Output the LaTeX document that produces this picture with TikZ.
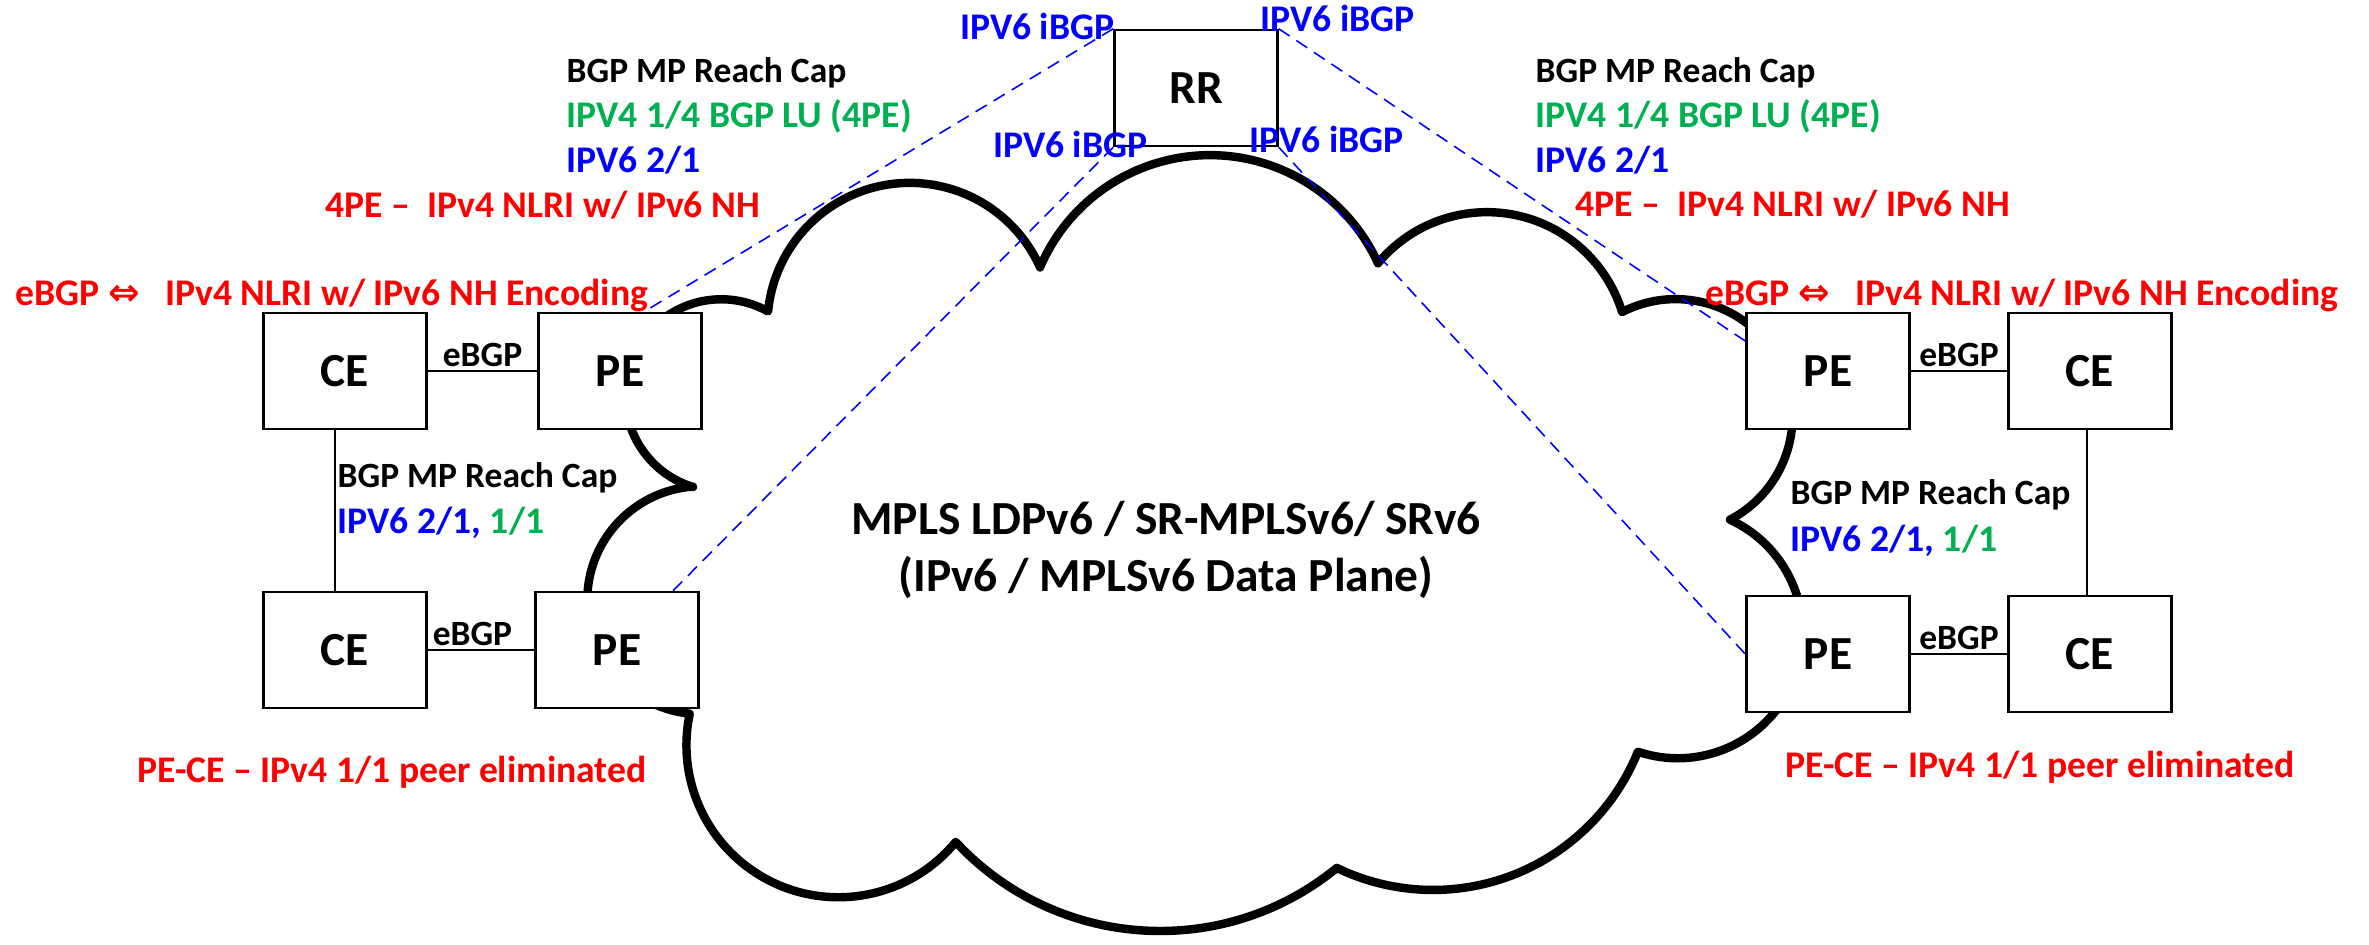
\documentclass[tikz,border=0pt]{standalone}
\usepackage{fontspec}
\setmainfont{Carlito}
\newfontfamily\arrowfont{DejaVu Sans}
\usepackage{tikz}
\usetikzlibrary{calc}

\definecolor{lugreen}{RGB}{0,176,80}
\newcommand{\bigtxt}{\fontsize{13.5pt}{16.4pt}\selectfont\bfseries}
\newcommand{\smalltxt}{\fontsize{10.1pt}{12.2pt}\selectfont\bfseries}
\newcommand{\colortxt}{\fontsize{10.7pt}{13pt}\selectfont\bfseries}

\begin{document}
\begin{tikzpicture}[x=0.01cm, y=-0.01cm,
    netbox/.style={draw, line width=0.7pt, fill=white, minimum width=1.63cm,
        minimum height=1.16cm, inner sep=0pt, font=\bigtxt},
    lbl/.style={inner sep=0pt, font=\smalltxt},
    clbl/.style={inner sep=0pt, font=\colortxt},
    ibgp/.style={blue, line width=0.45pt, dash pattern=on 3.7pt off 2.3pt},
    link/.style={line width=0.5pt},
    cloudline/.style={line width=2.4pt, line join=round}]
    \fill[white] (0,0) rectangle (2369,944);
    \useasboundingbox (0,0) rectangle (2369,944);

    % provider core
    \draw[cloudline] (693,487)
        arc[start angle=107.1, end angle=299.2, radius=96]
        arc[start angle=-174.4, end angle=-24.0, radius=142.5]
        arc[start angle=-156.9, end angle=-24.5, radius=184.7]
        arc[start angle=-140.3, end angle=-17.1, radius=141.5]
        arc[start angle=-117.2, end angle=62.3, radius=117]
        arc[start angle=-65.3, end angle=108.6, radius=125]
        arc[start angle=22.0, end angle=115.8, radius=221]
        arc[start angle=50.7, end angle=137.1, radius=279]
        arc[start angle=39.5, end angle=192.0, radius=152]
        arc[start angle=95.8, end angle=265.7, radius=114] -- cycle;
    \node[font=\bigtxt, align=center] (core) at (1166,550)
        {MPLS LDPv6 / SR-MPLSv6/ SRv6\\(IPv6 / MPLSv6 Data Plane)};

    \node[netbox] (RR) at (1196,88) {RR};
    \node[netbox] (CEa) at (345,371) {CE};
    \node[netbox] (PEa) at (620,371) {PE};
    \node[netbox] (CEb) at (345,650) {CE};
    \node[netbox] (PEb) at (617,650) {PE};
    \node[netbox] (PEc) at (1828,371) {PE};
    \node[netbox] (CEc) at (2090,371) {CE};
    \node[netbox] (PEd) at (1828,654) {PE};
    \node[netbox] (CEd) at (2090,654) {CE};

    \draw[link] (CEa) -- (PEa) node[midway, above, lbl, inner sep=1pt] {eBGP};
    \draw[link] (CEb) -- (PEb) node[pos=0.42, above, lbl, inner sep=1pt] {eBGP};
    \draw[link] (PEc) -- (CEc) node[midway, above, lbl, inner sep=1pt] {eBGP};
    \draw[link] (PEd) -- (CEd) node[midway, above, lbl, inner sep=1pt] {eBGP};
    \draw[link] ([xshift=-0.1cm]CEa.south) -- ([xshift=-0.1cm]CEb.north);
    \draw[link] ([xshift=-0.03cm]CEc.south) -- ([xshift=-0.03cm]CEd.north);

    % iBGP sessions to the RR
    \draw[ibgp] (RR.north west) -- ($(PEa.north)+(24,0)$);
    \draw[ibgp] (RR.south west) -- ($(PEb.north)+(56,0)$);
    \draw[ibgp] (RR.north east) -- ($(PEc.west)+(0,-30)$);
    \draw[ibgp] (RR.south east) -- (PEd.west);
    \node[clbl, blue, anchor=base east] (ibA) at (1115,39) {IPV6 iBGP};
    \node[clbl, blue, anchor=base west] (ibB) at (1260,31) {IPV6 iBGP};
    \node[clbl, blue, anchor=base east] (ibC) at (1148,157) {IPV6 iBGP};
    \node[clbl, blue, anchor=base west] (ibD) at (1249,152) {IPV6 iBGP};

    % left side
    \node[lbl, anchor=base west] (capA) at (566,82) {BGP MP Reach Cap};
    \node[clbl, anchor=base west, lugreen] (luA) at (566,127) {IPV4 1/4 BGP LU (4PE)};
    \node[clbl, anchor=base west, blue] (v6A) at (566,172) {IPV6 2/1};
    \node[clbl, anchor=base west, red] (nhA) at (325,217) {4PE –\ \ IPv4 NLRI w/ IPv6 NH};
    \node[clbl, anchor=base west, red] (encA) at (15,305)
        {eBGP {\arrowfont ⇔}\ \ \ IPv4 NLRI w/ IPv6 NH Encoding};
    \node[lbl, anchor=base west] (capL) at (337,487) {BGP MP Reach Cap};
    \node[clbl, anchor=base west] (v6L) at (337,533) {\color{blue}IPV6 2/1, \color{lugreen}1/1};
    \node[clbl, anchor=base west, red] (elimA) at (137,782) {PE-CE – IPv4 1/1 peer eliminated};

    % right side
    \node[lbl, anchor=base west] (capB) at (1535,82) {BGP MP Reach Cap};
    \node[clbl, anchor=base west, lugreen] (luB) at (1535,127) {IPV4 1/4 BGP LU (4PE)};
    \node[clbl, anchor=base west, blue] (v6B) at (1535,172) {IPV6 2/1};
    \node[clbl, anchor=base west, red] (nhB) at (1575,216) {4PE –\ \ IPv4 NLRI w/ IPv6 NH};
    \node[clbl, anchor=base west, red] (encB) at (1705,305)
        {eBGP {\arrowfont ⇔}\ \ \ IPv4 NLRI w/ IPv6 NH Encoding};
    \node[lbl, anchor=base west] (capR) at (1790,504) {BGP MP Reach Cap};
    \node[clbl, anchor=base west] (v6R) at (1790,551) {\color{blue}IPV6 2/1, \color{lugreen}1/1};
    \node[clbl, anchor=base west, red] (elimB) at (1785,777) {PE-CE – IPv4 1/1 peer eliminated};
\end{tikzpicture}
\end{document}
